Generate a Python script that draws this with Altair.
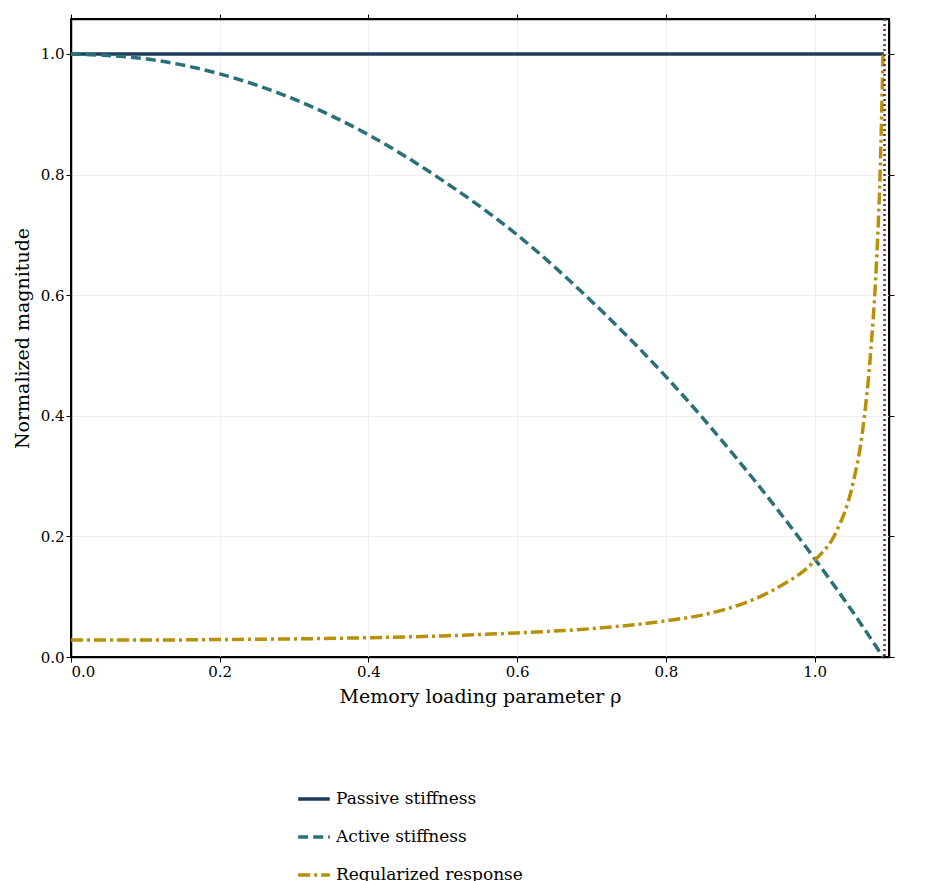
import altair as alt
import pandas as pd

passive_x = [0.0, 1.093]
passive_y = [1.0, 1.0]

active_x = [0.0, 0.1, 0.2, 0.3, 0.4, 0.5, 0.6, 0.7, 0.8, 0.9, 1.0, 1.05, 1.092]
active_y = [1.0, 0.992, 0.967, 0.925, 0.866, 0.79, 0.70, 0.59, 0.465, 0.322, 0.163, 0.077, 0.0]

reg_x = [0.0, 0.1, 0.2, 0.3, 0.4, 0.5, 0.6, 0.7, 0.8, 0.85, 0.9, 0.95, 1.0,
         1.03, 1.05, 1.065, 1.075, 1.083, 1.088, 1.092]
reg_y = [0.028, 0.028, 0.029, 0.030, 0.032, 0.035, 0.040, 0.047, 0.060, 0.070,
         0.087, 0.115, 0.16, 0.21, 0.28, 0.38, 0.50, 0.65, 0.80, 1.0]

critical_rho = 1.094

names = ["Passive stiffness", "Active stiffness", "Regularized response"]
colors = ["#1f3a5f", "#2a7078", "#b8900a"]
dashes = [[1, 0], [10, 5], [12, 4, 3, 4]]

rows = []
for name, xs, ys in zip(names, [passive_x, active_x, reg_x], [passive_y, active_y, reg_y]):
    for i, (x, y) in enumerate(zip(xs, ys)):
        rows.append({"series": name, "rho": x, "val": y, "order": i})
df = pd.DataFrame(rows)

FONT = "DejaVu Serif"
ticks = [0, 0.2, 0.4, 0.6, 0.8, 1.0]
xscale = alt.Scale(domain=[0, 1.1], nice=False, zero=False)
yscale = alt.Scale(domain=[0, 1.058], nice=False)
common = dict(values=ticks, format=".1f", tickSize=5, labelFontSize=15, titleFontSize=19,
              titleFontWeight="normal", titlePadding=8, domainColor="black",
              tickColor="black", labelColor="black", grid=True, gridColor="#eeeeee")

lines = alt.Chart(df).mark_line(strokeWidth=3.5, interpolate="monotone").encode(
    x=alt.X("rho:Q", scale=xscale, title="Memory loading parameter ρ", axis=alt.Axis(**common)),
    y=alt.Y("val:Q", scale=yscale, title="Normalized magnitude", axis=alt.Axis(**common)),
    color=alt.Color("series:N", sort=names,
                    scale=alt.Scale(domain=names, range=colors),
                    legend=alt.Legend(title=None, orient="none", legendX=225, legendY=762,
                                      direction="vertical",
                                      symbolType="stroke", symbolStrokeWidth=3.5, symbolSize=1000,
                                      labelFontSize=17, rowPadding=12, labelLimit=400)),
    strokeDash=alt.StrokeDash("series:N", sort=names,
                              scale=alt.Scale(domain=names, range=dashes), legend=None),
    order="order:Q",
)

vline = alt.Chart(pd.DataFrame({"rho": [critical_rho]})).mark_rule(
    color="#7b2b3a", strokeWidth=2.5, strokeDash=[2, 3]
).encode(
    x=alt.X("rho:Q", scale=xscale,
            axis=alt.Axis(orient="top", values=ticks, labels=False, title=None, grid=False,
                          tickSize=5, domainColor="black", tickColor="black"))
)

right = alt.Chart(pd.DataFrame({"val": [0.0]})).mark_point(opacity=0).encode(
    y=alt.Y("val:Q", scale=yscale,
            axis=alt.Axis(orient="right", values=ticks, labels=False, title=None, grid=False,
                          tickSize=5, domainColor="black", tickColor="black"))
)

chart = alt.layer(lines, vline, right).resolve_axis(
    x="independent", y="independent"
).properties(
    width=818, height=638
).configure(font=FONT).configure_view(stroke="black", strokeWidth=2).configure_axis(
    labelFont=FONT, titleFont=FONT, domainWidth=1.5
).configure_legend(labelFont=FONT)

chart.save("out.html", embed_options={"renderer": "svg", "actions": False})
